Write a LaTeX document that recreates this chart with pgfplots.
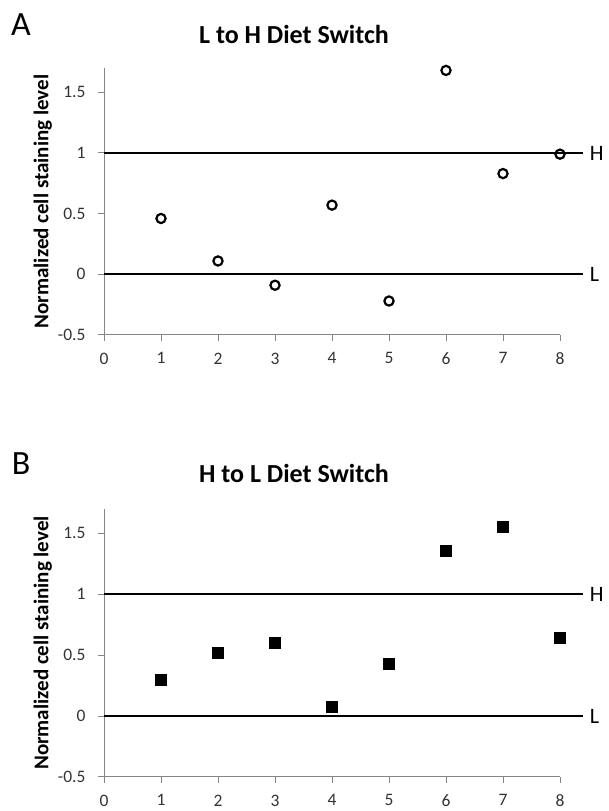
\documentclass[border=0pt]{standalone}
\usepackage{fontspec}
\setmainfont{Carlito}
\usepackage{pgfplots}
\pgfplotsset{compat=1.18}
\definecolor{axisgray}{RGB}{134,134,134}

\pgfplotsset{diet/.style={
  scale only axis, width=456pt,
  xmin=0, xmax=8, ymin=-0.5, ymax=1.7,
  axis x line*=bottom, axis y line*=left,
  axis line style={draw=axisgray, line width=1pt, -},
  xtick={0,1,2,3,4,5,6,7,8},
  xticklabels={0,1,2,3,4,5,6,7,8},
  ytick={-0.5,0,0.5,1,1.5},
  yticklabels={-0.5,0,0.5,1,1.5},
  tick align=outside, major tick length=6pt,
  tick style={draw=axisgray, line width=1pt},
  ticklabel style={font=\fontsize{17.5}{20}\selectfont, text=black!80},
  xticklabel style={yshift=-11pt, inner sep=0.5pt},
  yticklabel style={xshift=-9pt},
  ylabel={\textbf{Normalized cell staining level}},
  ylabel style={font=\fontsize{21}{24}\selectfont, at={(axis description cs:-0.134,0.50)}, anchor=center},
  clip=false,
}}

\begin{document}
\begin{tikzpicture}
\path[use as bounding box] (0,0) rectangle (608pt,811pt);

% panel A
\node[font=\fontsize{34}{38}\selectfont, anchor=center] at (21pt,786pt) {A};
\node[font=\fontsize{26}{30}\selectfont\bfseries] at (294pt,777pt) {L to H Diet Switch};
\begin{axis}[diet, height=267pt, at={(104pt,476pt)}, anchor=south west]
\addplot[black, line width=2pt] coordinates {(0,1) (8.4,1)};
\addplot[black, line width=2pt] coordinates {(0,0) (8.4,0)};
\addplot[only marks, mark=o, mark size=4.6pt, mark options={line width=2.2pt, fill=white}, black]
  coordinates {(1,0.46) (2,0.11) (3,-0.09) (4,0.57) (5,-0.22) (6,1.68) (7,0.83) (8,0.99)};
\node[anchor=west, font=\fontsize{22}{26}\selectfont] at (axis cs:8.46,1) {H};
\node[anchor=west, font=\fontsize{22}{26}\selectfont] at (axis cs:8.46,0) {L};
\end{axis}

% panel B
\node[font=\fontsize{34}{38}\selectfont, anchor=center] at (21pt,347pt) {B};
\node[font=\fontsize{26}{30}\selectfont\bfseries] at (294pt,338pt) {H to L Diet Switch};
\begin{axis}[diet, height=268pt, at={(104pt,34pt)}, anchor=south west]
\addplot[black, line width=2pt] coordinates {(0,1) (8.4,1)};
\addplot[black, line width=2pt] coordinates {(0,0) (8.4,0)};
\addplot[only marks, mark=square*, mark size=5.5pt, black]
  coordinates {(1,0.30) (2,0.52) (3,0.605) (4,0.073) (5,0.43) (6,1.36) (7,1.555) (8,0.64)};
\node[anchor=west, font=\fontsize{22}{26}\selectfont] at (axis cs:8.46,1) {H};
\node[anchor=west, font=\fontsize{22}{26}\selectfont] at (axis cs:8.46,0) {L};
\end{axis}
\end{tikzpicture}
\end{document}
